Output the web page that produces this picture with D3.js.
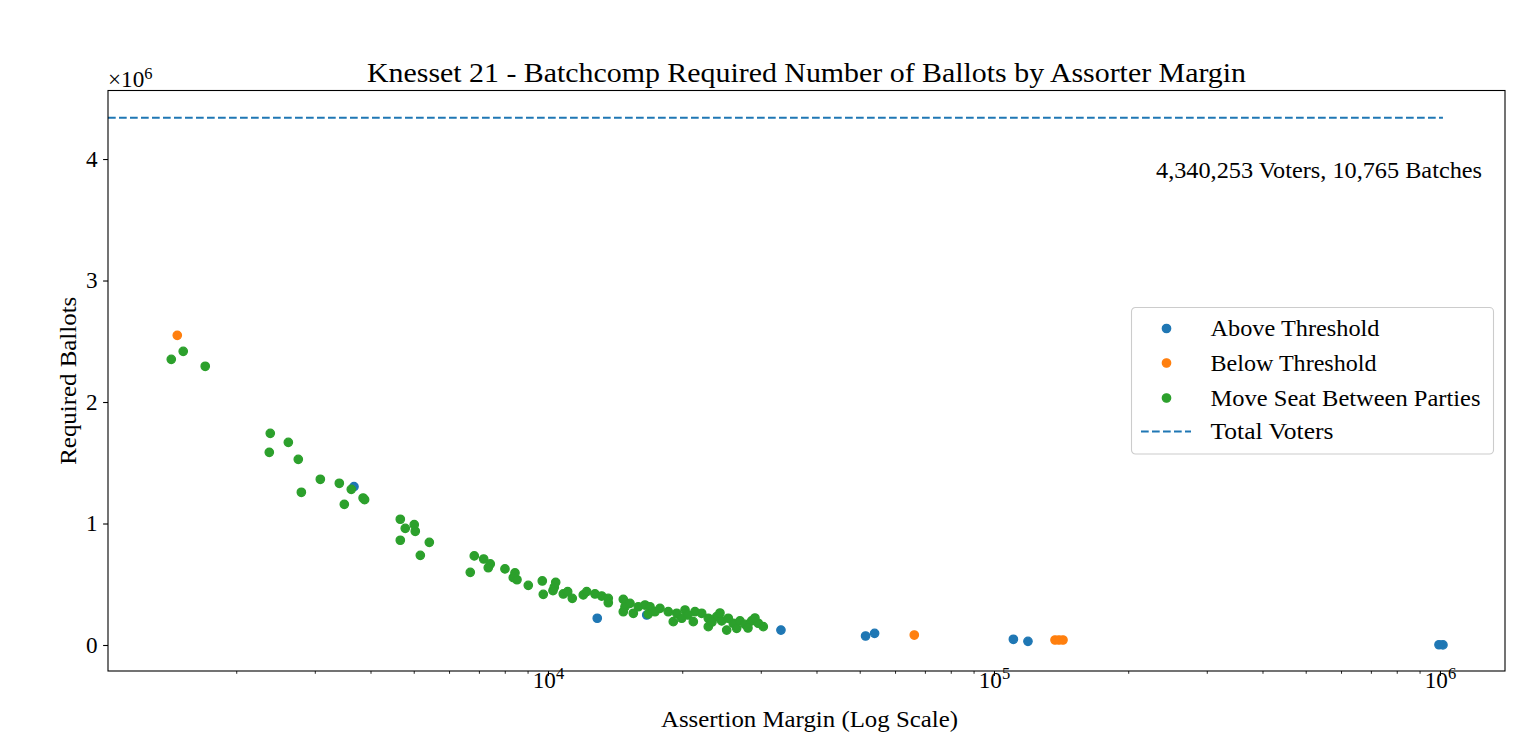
<!DOCTYPE html>
<html>
<head>
<meta charset="utf-8">
<script src="https://cdn.jsdelivr.net/npm/d3@7"></script>
<style>
    body { margin: 0; background: #fff; }
    svg { display: block; }
    text { font-family: "Liberation Serif", "DejaVu Serif", serif; fill: #000; }
</style>
</head>
<body>
<div id="chart"></div>
<script>
// values
const aboveMargin  = [3673, 12896, 16650, 33292, 51536, 53995, 110534, 119178, 995000, 1015500];
const aboveBallots = [1303000, 220000, 247000, 123000, 74000, 96000, 47000, 30000, 2000, 1000];

const belowMargin  = [1475, 66270, 137050, 139880, 142800];
const belowBallots = [2549000, 82000, 41000, 41000, 41000];

const moveMargin = [1430, 1521, 1704, 2384, 2617, 2372, 2755, 3087, 3405, 3622,
    2799, 3850, 3880, 3494, 4665, 5013, 4786, 5040, 4665, 5419,
    5173, 6695, 6835, 7174, 7423, 7347, 8008, 8433, 8359, 8521,
    9033, 9710, 9760, 10406, 10331, 10261, 10822, 11070, 11337, 11999,
    12213, 12746, 13194, 13652, 13652, 14752, 14882, 14752, 15274, 15537,
    15942, 16502, 16933, 16785, 17375, 17829, 18609, 19096, 19437, 20289,
    19946, 21361, 21175, 22111, 22878, 22878, 23893, 24517, 25366, 25157,
    26030, 26489, 26946, 27650, 28622, 29614, 30389, 20600, 23320, 28080,
    29110, 24300];
const moveBallots = [2351000, 2417000, 2294000, 1742000, 1668000, 1586000, 1528000, 1364000, 1331000, 1281000,
    1257000, 1210000, 1196000, 1158000, 1035000, 990000, 960000, 936000, 862000, 845000,
    738000, 598000, 733000, 708000, 667000, 636000, 626000, 593000, 554000, 537000,
    491000, 527000, 417000, 516000, 475000, 447000, 420000, 439000, 384000, 412000,
    439000, 420000, 403000, 384000, 348000, 376000, 315000, 274000, 343000, 261000,
    315000, 329000, 315000, 255000, 274000, 302000, 274000, 192000, 261000, 288000,
    220000, 274000, 192000, 261000, 220000, 151000, 233000, 198000, 220000, 123000,
    179000, 137000, 198000, 170000, 198000, 179000, 151000, 247000, 189000, 140000,
    222000, 263000];

const totalVoters = 4340253;
const totalBatches = 10765;

const seriesNames = ["Above Threshold", "Below Threshold", "Move Seat Between Parties"];
const seriesColors = ["#1f77b4", "#ff7f0e", "#2ca02c"];
const yTicks = [0, 1e6, 2e6, 3e6, 4e6];
const xTicks = [1e4, 1e5, 1e6];

const W = 1536, H = 754;
const plot = {left: 108, right: 1505, top: 90.5, bottom: 671};
const fontSize = 23.2;
const supSize = 16.5;

const svg = d3.select("#chart").append("svg")
    .attr("width", W)
    .attr("height", H);

// scales
const x = d3.scaleLog().domain([1031.5, 1.399e6]).range([plot.left, plot.right]);
const y = d3.scaleLinear().domain([-0.214e6, 4.564e6]).range([plot.bottom, plot.top]);

// minor ticks on the log axis
let minorTicks = x.ticks().filter(t => !xTicks.includes(t));
svg.append("g")
    .attr("transform", `translate(0,${plot.bottom})`)
    .call(d3.axisBottom(x).tickValues(minorTicks).tickSize(2.8).tickSizeOuter(0).tickFormat(""))
    .call(g => g.select(".domain").remove())
    .call(g => g.selectAll("line").attr("stroke-width", 0.85));

// major x ticks, labels written as 10^k
let xAxis = svg.append("g")
    .attr("transform", `translate(0,${plot.bottom})`)
    .call(d3.axisBottom(x).tickValues(xTicks).tickSize(4.9).tickSizeOuter(0).tickFormat(""))
    .call(g => g.select(".domain").remove())
    .call(g => g.selectAll("line").attr("stroke-width", 1.1));
xAxis.selectAll(".tick").append("text")
    .attr("y", 17.3)
    .attr("text-anchor", "middle")
    .style("font-size", fontSize + "px")
    .each(function (d) {
        let t = d3.select(this);
        t.append("tspan").style("font-size", fontSize + "px").text("10");
        t.append("tspan").attr("dy", -9).style("font-size", supSize + "px").text(Math.round(Math.log10(d)));
    });

// y axis
svg.append("g")
    .attr("transform", `translate(${plot.left},0)`)
    .call(d3.axisLeft(y).tickValues(yTicks).tickSize(4.9).tickSizeOuter(0).tickPadding(5.5)
        .tickFormat(d => d / 1e6))
    .call(g => g.select(".domain").remove())
    .call(g => g.selectAll("line").attr("stroke-width", 1.1))
    .call(g => g.selectAll("text")
        .style("font-size", fontSize + "px")
        .style("font-family", "'Liberation Serif', serif"));

// x10^6 offset label
let offset = svg.append("text")
    .attr("x", plot.left)
    .attr("y", 87)
    .style("font-size", fontSize + "px");
offset.append("tspan").style("font-size", fontSize + "px").text("\u00d710");
offset.append("tspan").attr("dy", -8).style("font-size", supSize + "px").text("6");

// total voters line
svg.append("line")
    .attr("x1", plot.left)
    .attr("x2", x(d3.max(aboveMargin)))
    .attr("y1", y(totalVoters))
    .attr("y2", y(totalVoters))
    .attr("stroke", seriesColors[0])
    .attr("stroke-width", 2.08)
    .attr("stroke-dasharray", "7.7,3.3");

// scatter points, one group per category
const groups = [
    {m: aboveMargin, b: aboveBallots},
    {m: belowMargin, b: belowBallots},
    {m: moveMargin, b: moveBallots}
];
groups.forEach((grp, i) => {
    svg.append("g")
        .selectAll("circle")
        .data(grp.m.map((m, k) => ({m: m, b: grp.b[k]})))
        .enter()
        .append("circle")
        .attr("cx", d => x(d.m))
        .attr("cy", d => y(d.b))
        .attr("r", 4.2)
        .attr("fill", seriesColors[i])
        .attr("stroke", seriesColors[i])
        .attr("stroke-width", 1.3);
});

// frame
svg.append("rect")
    .attr("x", plot.left)
    .attr("y", plot.top)
    .attr("width", plot.right - plot.left)
    .attr("height", plot.bottom - plot.top)
    .attr("fill", "none")
    .attr("stroke", "#000")
    .attr("stroke-width", 1.1);

// title
svg.append("text")
    .attr("x", (plot.left + plot.right) / 2)
    .attr("y", 82)
    .attr("text-anchor", "middle")
    .attr("textLength", 879)
    .attr("lengthAdjust", "spacingAndGlyphs")
    .style("font-size", "27.8px")
    .text("Knesset 21 - Batchcomp Required Number of Ballots by Assorter Margin");

// axis labels
svg.append("text")
    .attr("x", (plot.left + plot.right) / 2 + 3)
    .attr("y", 727)
    .attr("text-anchor", "middle")
    .attr("textLength", 297)
    .attr("lengthAdjust", "spacingAndGlyphs")
    .style("font-size", fontSize + "px")
    .text("Assertion Margin (Log Scale)");

svg.append("text")
    .attr("transform", `translate(75.5,${(plot.top + plot.bottom) / 2}) rotate(-90)`)
    .attr("text-anchor", "middle")
    .attr("textLength", 168)
    .attr("lengthAdjust", "spacingAndGlyphs")
    .style("font-size", fontSize + "px")
    .text("Required Ballots");

// annotation
svg.append("text")
    .attr("x", 1482)
    .attr("y", 178)
    .attr("text-anchor", "end")
    .attr("textLength", 326)
    .attr("lengthAdjust", "spacingAndGlyphs")
    .style("font-size", fontSize + "px")
    .text(d3.format(",")(totalVoters) + " Voters, " + d3.format(",")(totalBatches) + " Batches");

// legend
let legend = svg.append("g").attr("transform", "translate(1131.5,307.5)");
legend.append("rect")
    .attr("width", 362)
    .attr("height", 146.5)
    .attr("rx", 4)
    .attr("fill", "#fff")
    .attr("fill-opacity", 0.8)
    .attr("stroke", "#cccccc")
    .attr("stroke-width", 1.1);

let legendItems = seriesNames.concat(["Total Voters"]);
let legendWidths = [169, 166, 270, 123];
let rowY = [21, 55.5, 90.5, 124];
legendItems.forEach((name, i) => {
    let row = legend.append("g").attr("transform", `translate(0,${rowY[i]})`);
    if (i < 3) {
        row.append("circle")
            .attr("cx", 35)
            .attr("cy", 0)
            .attr("r", 4.2)
            .attr("fill", seriesColors[i])
            .attr("stroke", seriesColors[i])
            .attr("stroke-width", 1.3);
    } else {
        row.append("line")
            .attr("x1", 9.5)
            .attr("x2", 59.5)
            .attr("stroke", seriesColors[0])
            .attr("stroke-width", 2.08)
            .attr("stroke-dasharray", "7.7,3.3");
    }
    row.append("text")
        .attr("x", 79)
        .attr("y", 7.8)
        .attr("textLength", legendWidths[i])
        .attr("lengthAdjust", "spacingAndGlyphs")
        .style("font-size", fontSize + "px")
        .text(name);
});
</script>
</body>
</html>
